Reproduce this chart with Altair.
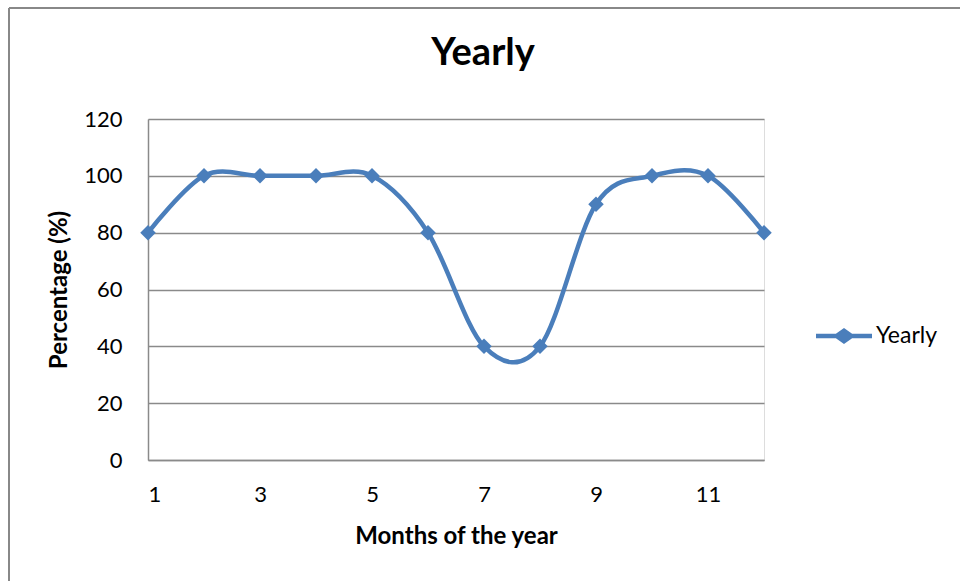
import altair as alt
import pandas as pd

months = [1, 2, 3, 4, 5, 6, 7, 8, 9, 10, 11, 12]
values = [80, 100, 100, 100, 100, 80, 40, 40, 90, 100, 100, 80]
series = ["Yearly"] * 12
x_ticks = [1, 3, 5, 7, 9, 11]
y_ticks = [0, 20, 40, 60, 80, 100, 120]

df = pd.DataFrame({"Month": months, "Percentage": values, "Series": series})

BLUE = "#4A7EBB"
GRID = "#8A8A8A"
FONT = "Lato"

legend_path = ("M-1,-0.08 L-0.29,-0.08 L0,-0.29 L0.29,-0.08 L1,-0.08 L1,0.08 "
               "L0.29,0.08 L0,0.29 L-0.29,0.08 L-1,0.08 Z")

x_enc = alt.X(
    "Month:Q",
    scale=alt.Scale(domain=[1, 12], nice=False, zero=False),
    axis=alt.Axis(values=x_ticks, title="Months of the year", grid=False,
                  ticks=False, tickSize=0, labelPadding=24, labelFontSize=22,
                  labelFont=FONT, labelColor="black", domainColor=GRID,
                  domainWidth=1.5, titleFont=FONT, titleFontSize=24,
                  titleFontWeight="bold", titleColor="black",
                  titleBaseline="alphabetic", titleY=83),
)
y_enc = alt.Y(
    "Percentage:Q",
    scale=alt.Scale(domain=[0, 120], nice=False),
    axis=alt.Axis(values=y_ticks, title="Percentage (%)", grid=True,
                  gridColor=GRID, gridWidth=1.4, ticks=False, tickSize=0,
                  labelPadding=26, labelFontSize=22, labelFont=FONT,
                  labelColor="black", domainColor=GRID, domainWidth=1.5,
                  titleFont=FONT, titleFontSize=24, titleFontWeight="bold",
                  titleColor="black", titleBaseline="alphabetic",
                  titleX=-82, titleY=170.5, titleAlign="center"),
)
color_enc = alt.Color(
    "Series:N",
    scale=alt.Scale(range=[BLUE]),
    legend=alt.Legend(title=None, orient="none", legendX=668, legendY=189,
                      symbolType=legend_path, symbolSize=3136,
                      symbolFillColor=BLUE, symbolStrokeWidth=0,
                      symbolOpacity=1, labelFont=FONT, labelFontSize=23,
                      labelColor="black", labelOffset=4, padding=0),
)

base = alt.Chart(df).encode(x=x_enc, y=y_enc, color=color_enc)
line = base.mark_line(interpolate="cardinal", tension=0, strokeWidth=4.5)
points = base.mark_point(shape="diamond", filled=True, size=240, opacity=1)

border_df = pd.DataFrame({"b": [0]})
left_border = alt.Chart(border_df).mark_rule(color="#888888", strokeWidth=2).encode(
    x=alt.value(9 - 148), y=alt.value(8 - 119), y2=alt.value(700)
)
top_border = alt.Chart(border_df).mark_rule(color="#888888", strokeWidth=2).encode(
    x=alt.value(9 - 148), x2=alt.value(1000), y=alt.value(8 - 119)
)

chart = alt.layer(left_border, top_border, line, points).properties(
    width=616,
    height=341,
    title=alt.TitleParams("Yearly", fontSize=38, font=FONT, fontWeight="bold",
                          color="black", anchor="middle", frame="group",
                          dx=27, baseline="alphabetic", offset=-96),
    autosize=alt.AutoSizeParams(type="none"),
    padding={"left": 148, "top": 119, "right": 196, "bottom": 121},
).configure_view(stroke=None).configure(background="white")

chart.save("out.html", embed_options={"renderer": "svg", "actions": False})
